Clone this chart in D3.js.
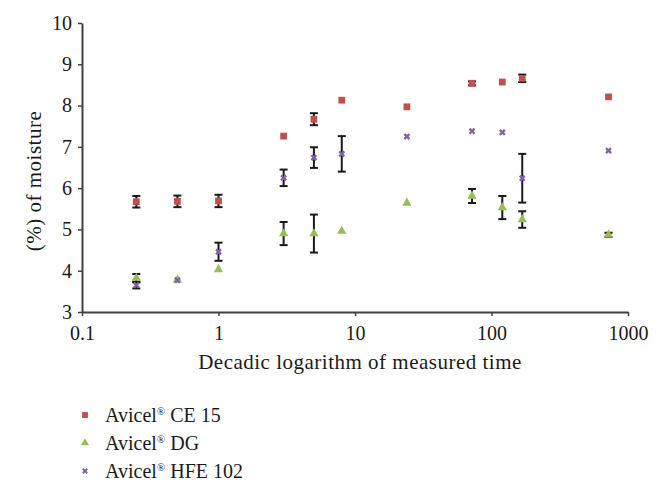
<!DOCTYPE html>
<html><head><meta charset="utf-8">
<script src="https://cdn.jsdelivr.net/npm/d3@7"></script>
<style>body{margin:0;background:#fff}svg{display:block}svg text{font-family:serif !important;fill:#1a1a1a}</style>
</head><body><svg id="c" width="662" height="489"></svg>
<script>
const times = [0.25, 0.5, 1, 3, 5, 8, 24, 72, 120, 168, 720];
const seriesNames = ["Avicel® CE 15", "Avicel® DG", "Avicel® HFE 102"];
const ce15 = [5.67, 5.68, 5.69, 7.26, 7.67, 8.13, 7.97, 8.54, 8.57, 8.66, 8.21];
const ce15Err = [0.14, 0.14, 0.15, 0.03, 0.145, 0.03, 0.03, 0.05, 0.03, 0.09, 0.03];
const dg = [3.82, 3.78, 4.03, 4.90, 4.90, 4.96, 5.64, 5.81, 5.53, 5.24, 4.87];
const dgErr = [0.1, 0.02, 0.02, 0.28, 0.46, 0.02, 0.02, 0.17, 0.28, 0.2, 0.05];
const hfe = [3.65, 3.77, 4.46, 6.25, 6.74, 6.83, 7.25, 7.38, 7.35, 6.24, 6.91];
const hfeErr = [0.08, 0.02, 0.22, 0.2, 0.25, 0.43, 0.02, 0.02, 0.02, 0.59, 0.02];
const xTicks = [0.1, 1, 10, 100, 1000];
const yTicks = [3, 4, 5, 6, 7, 8, 9, 10];
const colors = ["#c0504d", "#9bbb59", "#8064a2"];

const svg = d3.select("#c");
const x = d3.scaleLog().domain([0.1, 1000]).range([82, 628]);
const y = d3.scaleLinear().domain([3, 10]).range([312, 23]);

const axisColor = "#404040";
const gx = svg.append("g").attr("transform", "translate(0,312)")
  .call(d3.axisBottom(x).tickValues(xTicks).tickFormat(d => String(d)).tickSize(4).tickSizeOuter(0));
const gy = svg.append("g").attr("transform", "translate(82,0)")
  .call(d3.axisLeft(y).tickValues(yTicks).tickFormat(d3.format("d")).tickSize(4).tickSizeOuter(0));
[gx, gy].forEach(g => {
  g.attr("font-family", null);
  g.select(".domain").attr("stroke", axisColor).attr("stroke-width", 2);
  g.selectAll(".tick line").attr("stroke", axisColor).attr("stroke-width", 1.5);
  g.selectAll(".tick text").attr("font-size", 20).attr("fill", "#1a1a1a");
});
gx.selectAll(".tick text").attr("dy", "1.05em");
gy.selectAll(".tick text").attr("x", -10);

svg.append("text").attr("x", 360).attr("y", 369).attr("text-anchor", "middle").attr("font-size", 21)
  .attr("letter-spacing", 0.5).text("Decadic logarithm of measured time");
svg.append("text").attr("transform", "translate(41,181) rotate(-90)").attr("text-anchor", "middle").attr("font-size", 21)
  .attr("letter-spacing", 0.5).text("(%) of moisture");

const data = [[ce15, ce15Err], [dg, dgErr], [hfe, hfeErr]];
const shapes = [d3.symbolSquare, d3.symbolTriangle, d3.symbolCross];
const sizes = [46, 38, 28];

data.forEach(([vals, errs], si) => {
  const g = svg.append("g").attr("stroke", "#1a1a1a").attr("stroke-width", 2);
  times.forEach((t, i) => {
    const e = errs[i];
    if (e < 0.04) return;
    const cx = x(t), y1 = y(vals[i] + e), y2 = y(vals[i] - e);
    g.append("line").attr("x1", cx).attr("x2", cx).attr("y1", y1).attr("y2", y2);
    g.append("line").attr("x1", cx - 4).attr("x2", cx + 4).attr("y1", y1).attr("y2", y1);
    g.append("line").attr("x1", cx - 4).attr("x2", cx + 4).attr("y1", y2).attr("y2", y2);
  });
});
data.forEach(([vals, errs], si) => {
  const g = svg.append("g");
  g.selectAll("path.m").data(times).join("path")
    .attr("transform", (t, i) => `translate(${x(t)},${y(vals[i])})` + (si === 2 ? " rotate(45)" : ""))
    .attr("d", d3.symbol().type(shapes[si]).size(sizes[si]))
    .attr("fill", colors[si]);
});

const leg = svg.append("g");
seriesNames.forEach((n, i) => {
  const yy = 415 + i * 28;
  leg.append("path").attr("transform", `translate(85,${yy})` + (i === 2 ? " rotate(45)" : ""))
    .attr("d", d3.symbol().type(shapes[i]).size(sizes[i] * 0.75)).attr("fill", colors[i]);
  const parts = n.split("®");
  const t = leg.append("text").attr("x", 105).attr("y", yy + 7).attr("font-size", 20);
  t.append("tspan").text(parts[0]);
  t.append("tspan").attr("font-size", 11).attr("dy", -7).text("®");
  t.append("tspan").attr("dy", 7).text(parts[1]);
});
</script></body></html>
